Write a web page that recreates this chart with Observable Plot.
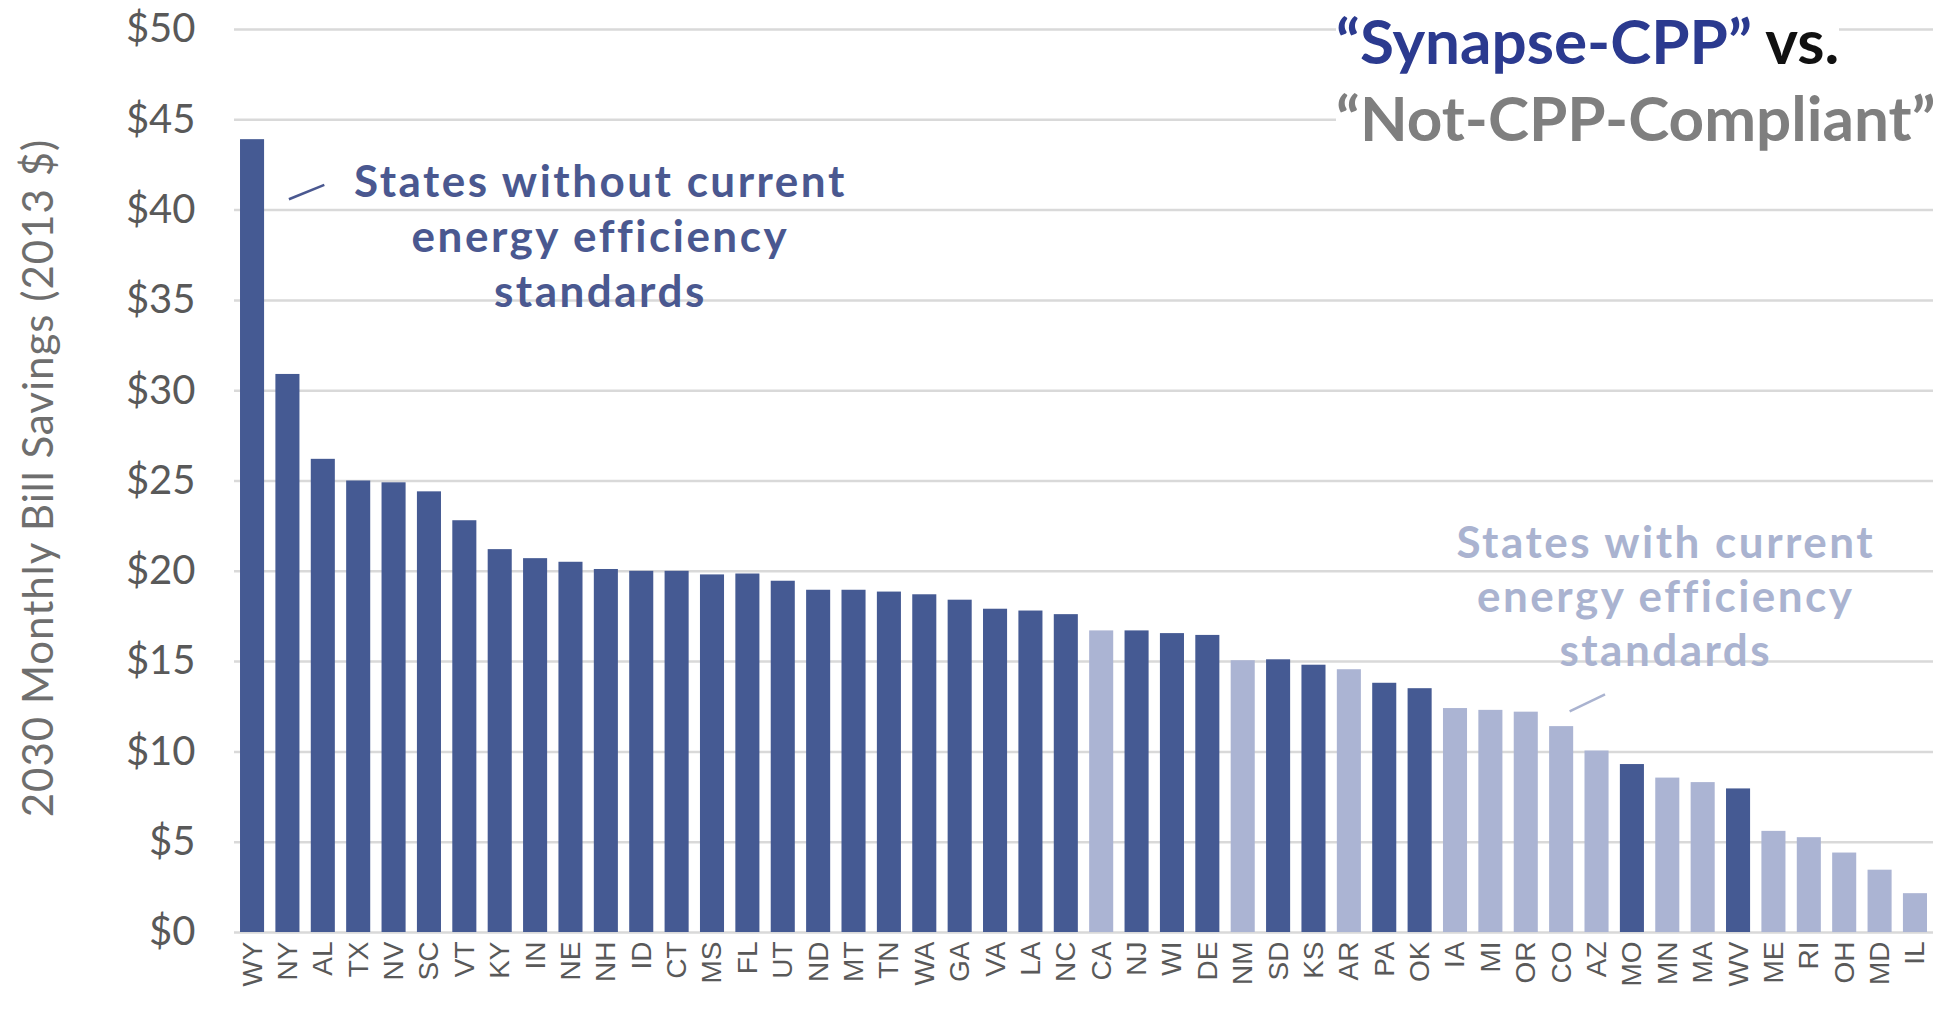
<!DOCTYPE html>
<html><head><meta charset="utf-8">
<script src="https://cdn.jsdelivr.net/npm/d3@7"></script>
<script src="https://cdn.jsdelivr.net/npm/@observablehq/plot@0.6"></script>
<style>
body{margin:0;background:#fff;}
#wrap{position:relative;width:1949px;height:1011px;overflow:hidden;background:#fff;}
.t{position:absolute;font-family:Lato,sans-serif;font-weight:700;font-size:62px;line-height:62px;white-space:nowrap;}
.t span.bg{background:#fff;}
#ytitle{position:absolute;left:37px;top:478px;transform:translate(-50%,-50%) rotate(-90deg);white-space:nowrap;font-family:Lato,sans-serif;font-size:42px;letter-spacing:1px;color:#6e6e6e;line-height:42px;}
</style></head><body>
<div id="wrap">
<div id="chart"></div>
<div id="ytitle"></div>
<div class="t" style="left:1336px;top:9px"><span class="bg"><span style="color:#2b3a8f">“Synapse-CPP”</span> <span style="color:#111">vs.</span></span></div>
<div class="t" style="left:1336px;top:86px;color:#7f7f7f"><span class="bg">“Not-CPP-Compliant”</span></div>
</div>
<script>
const states = ["WY","NY","AL","TX","NV","SC","VT","KY","IN","NE","NH","ID","CT","MS","FL","UT","ND","MT","TN","WA","GA","VA","LA","NC","CA","NJ","WI","DE","NM","SD","KS","AR","PA","OK","IA","MI","OR","CO","AZ","MO","MN","MA","WV","ME","RI","OH","MD","IL"];
const savings = [43.9,30.9,26.2,25.0,24.9,24.4,22.8,21.2,20.7,20.5,20.1,20.0,20.0,19.8,19.85,19.45,18.95,18.95,18.85,18.7,18.4,17.9,17.8,17.6,16.7,16.7,16.55,16.45,15.05,15.1,14.8,14.55,13.8,13.5,12.4,12.3,12.2,11.4,10.05,9.3,8.55,8.3,7.95,5.6,5.25,4.4,3.45,2.15];
const groups = ["without","without","without","without","without","without","without","without","without","without",
  "without","without","without","without","without","without","without","without","without","without",
  "without","without","without","without","with","without","without","without","with","without",
  "without","with","without","without","with","with","with","with","with","without",
  "with","with","without","with","with","with","with","with"];
const yTicks = [0,5,10,15,20,25,30,35,40,45,50];
const yTitle = "2030 Monthly Bill Savings (2013 $)";
const annoWithout = "States without current\nenergy efficiency\nstandards";
const annoWith = "States with current\nenergy efficiency\nstandards";

const DARK = "#455a93", LIGHT = "#abb4d3";
const ANNO_DARK = "#4a5890", ANNO_LIGHT = "#aab3d0";
const data = states.map((s, i) => ({state: s, value: savings[i], group: groups[i]}));

document.getElementById("ytitle").textContent = yTitle;

const chart = Plot.plot({
  width: 1949, height: 1011,
  marginLeft: 234, marginRight: 16, marginTop: 29, marginBottom: 79,
  style: {fontFamily: "Lato, sans-serif", background: "#fff"},
  x: {domain: states, paddingInner: 0.32, paddingOuter: 0.17, round: false, label: null},
  y: {domain: [0, 50], label: null},
  color: {domain: ["without", "with"], range: [DARK, LIGHT]},
  marks: [
    Plot.ruleY(yTicks, {stroke: "#d9d9d9", strokeWidth: 2.5}),
    Plot.barY(data, {x: "state", y: "value", fill: "group"}),
    Plot.axisY({ticks: yTicks, tickSize: 0, tickPadding: 39, tickFormat: d => "$" + d, fontSize: 40, color: "#595959", label: null}),
    Plot.axisX({tickSize: 0, tickPadding: 9, tickRotate: -90, fontSize: 28, fontFamily: "Liberation Sans, Arial, sans-serif", color: "#595959", label: null}),
    Plot.text([annoWithout], {text: d => d, x: () => "NH", y: () => 34.66, dx: -6, lineAnchor: "bottom", lineHeight: 1.25, fontSize: 44, fontWeight: 700, fill: ANNO_DARK}),
    Plot.link([0], {x1: () => "NY", y1: () => 40.6, x2: () => "AL", y2: () => 41.4, dx: 1, stroke: ANNO_DARK, strokeWidth: 2.5}),
    Plot.text([annoWith], {text: d => d, x: () => "MN", y: () => 14.73, dx: -2, lineAnchor: "bottom", lineHeight: 1.23, fontSize: 44, fontWeight: 700, fill: ANNO_LIGHT}),
    Plot.link([0], {x1: () => "CO", y1: () => 12.24, x2: () => "AZ", y2: () => 13.18, dx: 8, stroke: ANNO_LIGHT, strokeWidth: 2.5})
  ]
});
chart.querySelectorAll(`g[fill="${ANNO_DARK}"] text, g[fill="${ANNO_LIGHT}"] text`).forEach(t => {
  t.style.letterSpacing = "2.5px";
});
document.getElementById("chart").appendChild(chart);
</script>
</body></html>
